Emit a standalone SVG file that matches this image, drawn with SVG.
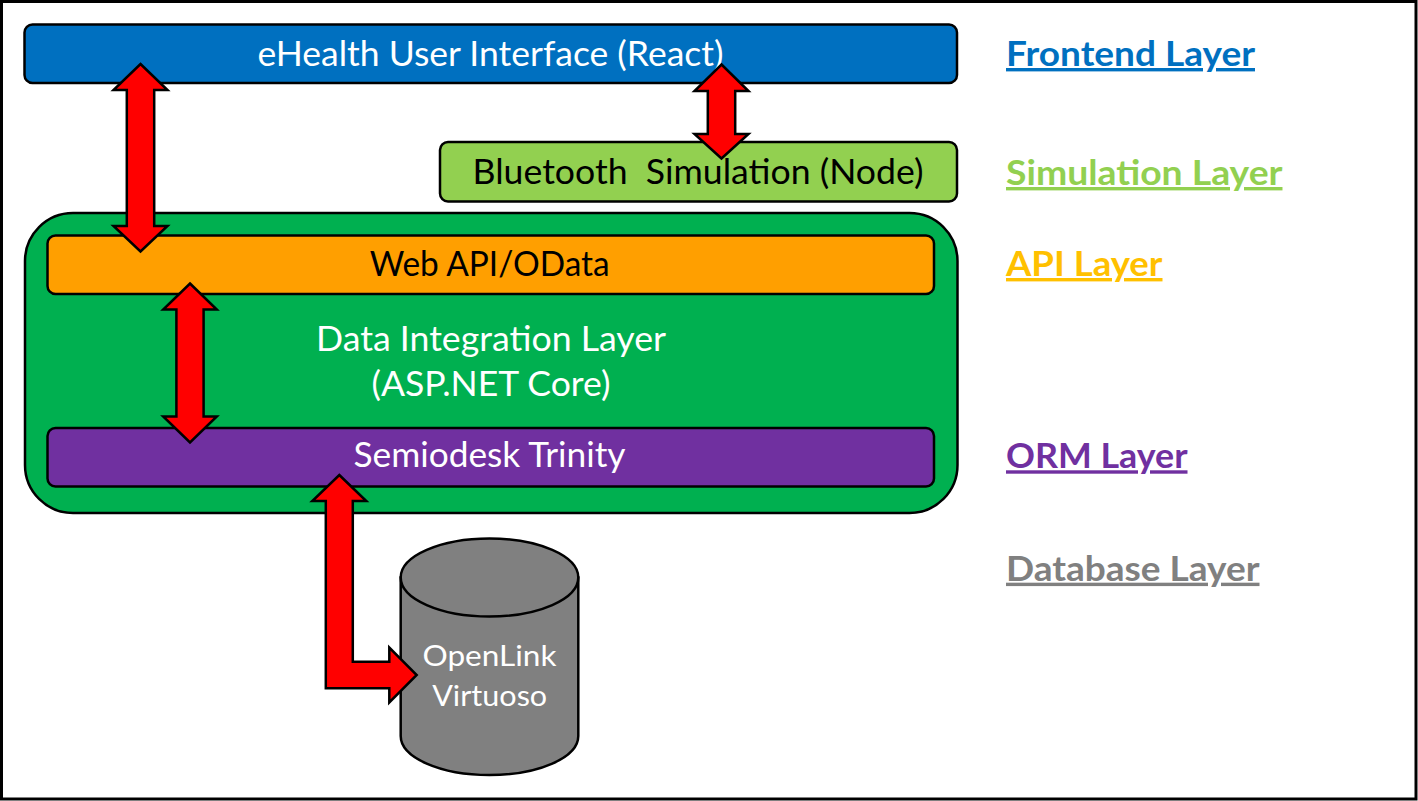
<svg xmlns="http://www.w3.org/2000/svg" width="1418" height="801" viewBox="0 0 1418 801">
<style>
.box{stroke:#000;stroke-width:2.5}
.lbl{font-family:Lato,"Liberation Sans",sans-serif;font-size:34px;text-anchor:middle}
.db{font-family:Lato,"Liberation Sans",sans-serif;font-size:29.5px;text-anchor:middle;fill:#fff}
.layer{font-family:Lato,"Liberation Sans",sans-serif;font-size:34px;font-weight:bold;text-decoration:underline}
.arrow{fill:#ff0000;stroke:#000;stroke-width:2.5;stroke-linejoin:miter}
</style>
<rect x="1.5" y="1.5" width="1414.5" height="797.5" fill="#fff" stroke="#000" stroke-width="3"/>

<g id="frontend">
<rect class="box" x="24.5" y="24.5" width="932.5" height="58.5" rx="8" fill="#0070C0"/>
<text class="lbl" x="490.5" y="65.5" fill="#fff" textLength="466" lengthAdjust="spacingAndGlyphs">eHealth User Interface (React)</text>
</g>

<g id="bluetooth">
<rect class="box" x="440" y="142" width="517" height="59.5" rx="8" fill="#92D050"/>
<text class="lbl" x="698" y="183.5" fill="#000" textLength="451" lengthAdjust="spacingAndGlyphs" xml:space="preserve">Bluetooth  Simulation (Node)</text>
</g>

<g id="integration">
<rect class="box" x="25" y="213" width="932.5" height="300" rx="48" fill="#00B050"/>
<text class="lbl" x="491" y="351" fill="#fff" textLength="350" lengthAdjust="spacingAndGlyphs">Data Integration Layer</text>
<text class="lbl" x="491" y="395.7" fill="#fff" textLength="239" lengthAdjust="spacingAndGlyphs">(ASP.NET Core)</text>
</g>

<g id="webapi">
<rect class="box" x="47.5" y="235.5" width="886.5" height="58.5" rx="8" fill="#FF9F00"/>
<text class="lbl" x="489.7" y="276" fill="#000" textLength="240" lengthAdjust="spacingAndGlyphs">Web API/OData</text>
</g>

<g id="semiodesk">
<rect class="box" x="47.5" y="428" width="886.5" height="58.5" rx="8" fill="#7030A0"/>
<text class="lbl" x="489.5" y="467" fill="#fff" textLength="272" lengthAdjust="spacingAndGlyphs">Semiodesk Trinity</text>
</g>

<g id="virtuoso">
<path class="box" d="M400.7,577.5 L400.7,736 A88.8,39 0 0 0 578.3,736 L578.3,577.5 Z" fill="#808080"/>
<ellipse class="box" cx="489.5" cy="577.5" rx="88.8" ry="39" fill="#808080"/>
<text class="db" x="489.5" y="666" textLength="134" lengthAdjust="spacingAndGlyphs">OpenLink</text>
<text class="db" x="489.7" y="706" textLength="115" lengthAdjust="spacingAndGlyphs">Virtuoso</text>
</g>

<g id="connectors">
<polygon class="arrow" points="140.5,64 167.5,90 154.2,90 154.2,226 167.5,226 140.5,251.5 113.5,226 126.8,226 126.8,90 113.5,90"/>
<polygon class="arrow" points="721.5,64.5 748.5,91 735.2,91 735.2,134 748.5,134 721.5,158.5 694.5,134 707.8,134 707.8,91 694.5,91"/>
<polygon class="arrow" points="190,283.5 216.8,309.5 203.6,309.5 203.6,416.5 216.8,416.5 190,442.5 163.2,416.5 176.4,416.5 176.4,309.5 163.2,309.5"/>
<polygon class="arrow" points="339.3,475 366.3,501 352.8,501 352.8,661.7 389.3,661.7 389.3,647.5 416.7,675 389.3,702.5 389.3,688.3 325.8,688.3 325.8,501 312.3,501"/>
</g>

<g id="layers">
<text class="layer" x="1006" y="66" fill="#0070C0" textLength="249" lengthAdjust="spacingAndGlyphs">Frontend Layer</text>
<text class="layer" x="1006" y="185" fill="#92D050" textLength="276.5" lengthAdjust="spacingAndGlyphs">Simulation Layer</text>
<text class="layer" x="1006" y="276" fill="#FFC000" textLength="156.5" lengthAdjust="spacingAndGlyphs">API Layer</text>
<text class="layer" x="1006" y="468.3" fill="#7030A0" textLength="181.5" lengthAdjust="spacingAndGlyphs">ORM Layer</text>
<text class="layer" x="1006" y="580.7" fill="#808080" textLength="253.5" lengthAdjust="spacingAndGlyphs">Database Layer</text>
</g>
</svg>
